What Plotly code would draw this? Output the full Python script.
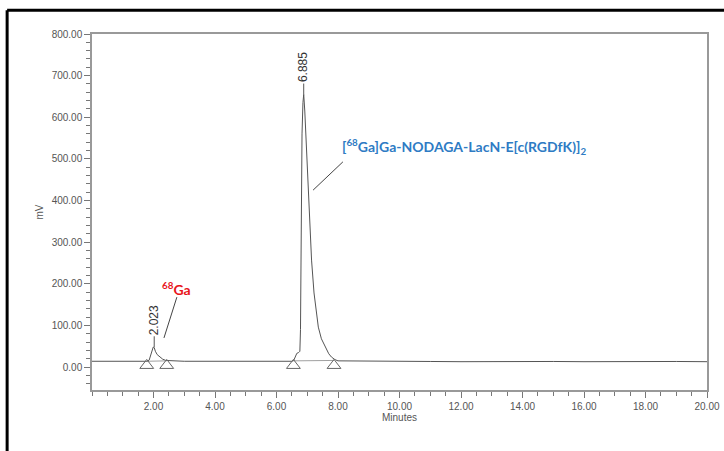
import plotly.graph_objects as go

# Chromatogram trace (minutes, mV)
time_min = [0.0, 0.5, 1.0, 1.5, 1.80, 1.86, 1.92, 1.96, 1.99, 2.023, 2.06, 2.12, 2.20, 2.30, 2.40, 2.60,
            3.0, 4.0, 5.0, 6.0, 6.50, 6.56, 6.62, 6.66, 6.72, 6.76, 6.78, 6.80, 6.83, 6.86, 6.885,
            6.92, 6.95, 7.00, 7.04, 7.09, 7.14, 7.22, 7.29, 7.36, 7.46, 7.58, 7.70, 7.79, 7.90, 8.0,
            9.0, 10.0, 11.0, 12.0, 13.0, 14.0, 15.0, 16.0, 17.0, 18.0, 19.0, 20.0]
signal_mv = [14, 14, 13.5, 14, 14, 17, 30, 42, 48, 47, 38, 30, 24, 19, 16, 15,
             14, 14, 13.5, 14, 14, 16, 26, 33, 35, 38, 90, 330, 560, 635, 655,
             615, 570, 488, 418, 335, 257, 178, 130, 96, 68, 48, 32, 24, 18, 15,
             14, 13.5, 13.5, 13, 13.5, 14, 13.5, 13, 13.5, 13, 13.5, 13]

# Integration markers
marker_t = [1.78, 2.43, 6.55, 7.87]
marker_mv = [4, 4, 4, 4]

peak_labels = ["2.023", "6.885"]
peak_t = [2.023, 6.885]
peak_mv = [48, 655]

ga_label = "<sup>68</sup>Ga"
product_label = "[<sup>68</sup>Ga]Ga-NODAGA-LacN-E[c(RGDfK)]<sub>2</sub>"

y_ticks = [0, 100, 200, 300, 400, 500, 600, 700, 800]
x_ticks = [2, 4, 6, 8, 10, 12, 14, 16, 18, 20]

fig = go.Figure()
fig.add_trace(go.Scatter(x=time_min, y=signal_mv, mode="lines",
                         line=dict(color="#555555", width=1), showlegend=False,
                         hoverinfo="skip"))
# integration baselines
fig.add_trace(go.Scatter(x=[marker_t[0], marker_t[1]], y=[14, 15], mode="lines",
                         line=dict(color="#888888", width=0.8), showlegend=False))
fig.add_trace(go.Scatter(x=[marker_t[2], marker_t[3]], y=[15, 16], mode="lines",
                         line=dict(color="#888888", width=0.8), showlegend=False))
fig.add_trace(go.Scatter(x=marker_t, y=marker_mv, mode="markers",
                         marker=dict(symbol="triangle-up-open", size=12,
                                     color="#666666", line=dict(width=1)),
                         showlegend=False))

tick_font = dict(family="Liberation Sans, Arial", size=10, color="#555555")

# peak retention labels (vertical)
for lab, t, v in zip(peak_labels, peak_t, peak_mv):
    fig.add_annotation(x=t, y=v, text=lab, textangle=-90, showarrow=False,
                       xanchor="center", yanchor="bottom", yshift=10,
                       font=dict(family="Liberation Sans, Arial", size=12, color="#333333"))
    fig.add_shape(type="line", x0=t, x1=t, y0=v, y1=v + 26,
                  line=dict(color="#555555", width=1))

# compound labels
fig.add_annotation(x=2.76, y=188, text=ga_label, showarrow=False,
                   font=dict(family="Lato, Noto Sans", size=14, color="#E8141B", weight="bold"))
fig.add_shape(type="line", x0=2.76, y0=168, x1=2.34, y1=70,
              line=dict(color="#444444", width=1))
fig.add_annotation(x=12.1, y=531, text=product_label, showarrow=False,
                   font=dict(family="Lato, Noto Sans", size=14, color="#2E7BC4", weight="bold"))
fig.add_shape(type="line", x0=8.16, y0=493, x1=7.19, y1=425,
              line=dict(color="#444444", width=1))

# outer black frame
fig.add_shape(type="line", xref="paper", yref="paper", x0=-0.138, x1=1.2, y0=1.067, y1=1.067,
              line=dict(color="black", width=3))
fig.add_shape(type="line", xref="paper", yref="paper", x0=-0.138, x1=-0.138, y0=1.067, y1=-0.5,
              line=dict(color="black", width=3))

fig.update_layout(
    width=724, height=451,
    margin=dict(l=92, r=17, t=34, b=61),
    paper_bgcolor="white", plot_bgcolor="white",
    xaxis=dict(range=[0, 20], tickvals=x_ticks, ticktext=[f"{v:.2f}" for v in x_ticks],
               ticks="outside", ticklen=6, tickcolor="#777777", automargin=False,
               minor=dict(dtick=0.5, tick0=0, ticks="outside", ticklen=4, tickcolor="#777777"),
               showline=True, linecolor="#999999", linewidth=1.5, mirror=True,
               showgrid=False, zeroline=False, tickfont=tick_font,
               title=dict(text="Minutes", font=tick_font, standoff=2)),
    yaxis=dict(range=[-55, 800], tickvals=y_ticks, ticktext=[f"{v:.2f}" for v in y_ticks],
               ticks="outside", ticklen=6, tickcolor="#777777", automargin=False,
               minor=dict(dtick=20, tick0=0, ticks="outside", ticklen=4, tickcolor="#777777"),
               showline=True, linecolor="#999999", linewidth=1.5, mirror=True,
               showgrid=False, zeroline=False, tickfont=tick_font,
               title=dict(text="mV", font=tick_font, standoff=6)),
)

fig.write_html("out.html", config={"displayModeBar": False},
               post_script="document.body.style.margin='0px';document.body.style.overflow='hidden';")
